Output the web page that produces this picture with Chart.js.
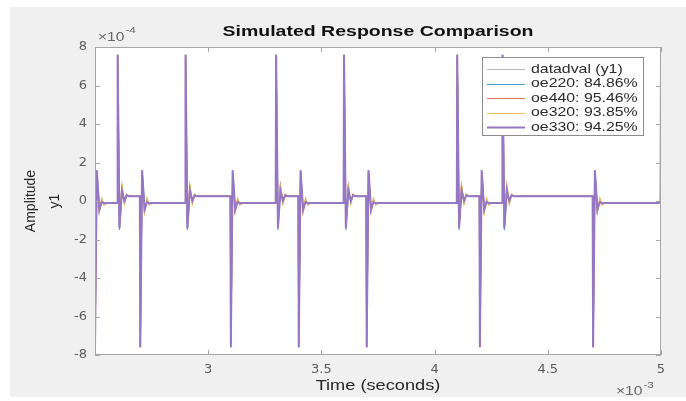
<!DOCTYPE html>
<html>
<head>
<meta charset="utf-8">
<script src="https://cdn.jsdelivr.net/npm/chart.js@4"></script>
<style>
  html, body { margin: 0; padding: 0; background: #fff; }
  #wrap { width: 686px; height: 401px; }
</style>
</head>
<body>
<div id="wrap"><canvas id="chart" width="686" height="401"></canvas></div>
<script>
// Step times of the input (x 1e-3 s) and direction of each step
const stepTimes = [2.5, 2.6, 2.7, 2.9, 3.1, 3.3, 3.4, 3.6, 3.7, 4.1, 4.2, 4.3, 4.7, 5.0];
const stepDirs  = ['down', 'up', 'down', 'up', 'down', 'up', 'down', 'up', 'down', 'up', 'down', 'up', 'down', 'up'];
// time offsets (x 1e-3 s) of the response samples after a step
const responseOffsets = [0, 0.008, 0.019, 0.03, 0.04, 0.05];
const preStep = 0.002;

// Samples after each step (x 1e-4)
const dataUp    = [7.6, -1.3, 0.5, 0.05, 0.3, 0.25];
const dataDown  = [-7.6, 1.5, -0.4, -0.05, -0.15, -0.1];
const oe220Up   = [7.5, -1.5, 0.4, 0.1, 0.3, 0.25];
const oe220Down = [-7.5, 1.6, -0.3, -0.05, -0.15, -0.1];
const oe440Up   = [7.6, -1.2, 0.8, -0.1, 0.35, 0.25];
const oe440Down = [-7.6, 1.4, -0.55, 0.1, -0.2, -0.1];
const oe320Up   = [7.6, -1.1, 0.85, -0.15, 0.35, 0.25];
const oe320Down = [-7.6, 1.3, -0.6, 0.15, -0.2, -0.1];
const oe330Up   = [7.6, -1.4, 0.55, 0.0, 0.3, 0.25];
const oe330Down = [-7.6, 1.6, -0.45, -0.05, -0.12, -0.1];
const firstValues = [-7.6, -5.0, -7.6, -7.6, -7.6];

const seriesNames = ['datadval (y1)', 'oe220: 84.86%', 'oe440: 95.46%', 'oe320: 93.85%', 'oe330: 94.25%'];
const xTicks = [3, 3.5, 4, 4.5, 5];
const yTicks = [-8, -6, -4, -2, 0, 2, 4, 6, 8];

// build the line points from the step list
function buildPoints(up, down, first) {
    let pts = [];
    stepTimes.forEach((t, i) => {
        let resp = stepDirs[i] === 'up' ? up : down;
        if (pts.length) pts.push({ x: t - preStep, y: pts[pts.length - 1].y });
        resp.forEach((v, k) => {
            pts.push({ x: t + responseOffsets[k], y: (i === 0 && k === 0) ? first : v });
        });
    });
    return pts;
}

const colors = ['#b9b9b9', '#4f9fd3', '#e2795c', '#eebf5c', '#9677c4'];
const widths = [1.2, 1.2, 1.2, 1.2, 2];
const responses = [
    [dataUp, dataDown], [oe220Up, oe220Down], [oe440Up, oe440Down],
    [oe320Up, oe320Down], [oe330Up, oe330Down]
];

const datasets = seriesNames.map((name, i) => ({
    label: name,
    data: buildPoints(responses[i][0], responses[i][1], firstValues[i]),
    borderColor: colors[i],
    backgroundColor: colors[i],
    borderWidth: widths[i],
    pointRadius: 0,
    tension: 0,
    order: 5 - i
}));

// text with horizontal stretch, the screenshot is wide
function drawText(ctx, text, x, y, font, color, align, stretch) {
    ctx.save();
    ctx.font = font;
    ctx.fillStyle = color;
    ctx.textBaseline = 'middle';
    let w = ctx.measureText(text).width * stretch;
    let left = align === 'center' ? x - w / 2 : (align === 'right' ? x - w : x);
    ctx.translate(left, y);
    ctx.scale(stretch, 1);
    ctx.textAlign = 'left';
    ctx.fillText(text, 0, 0);
    ctx.restore();
    return w;
}

const figurePlugin = {
    id: 'figure',
    beforeDraw(chart) {
        let { ctx, chartArea: a } = chart;
        ctx.save();
        ctx.fillStyle = '#ffffff';
        ctx.fillRect(0, 0, chart.width, chart.height);
        ctx.fillStyle = '#f0f0f0';
        ctx.fillRect(10, 7, chart.width - 10, 390);
        ctx.fillStyle = '#ffffff';
        ctx.fillRect(a.left, a.top, a.right - a.left, a.bottom - a.top);
        ctx.restore();
    },
    afterDatasetsDraw(chart) {
        let { ctx, chartArea: a, scales } = chart;
        ctx.save();
        ctx.strokeStyle = '#a6a6a6';
        ctx.lineWidth = 1;
        ctx.strokeRect(a.left + 0.5, a.top + 0.5, a.right - a.left - 1, a.bottom - a.top - 1);
        ctx.beginPath();
        xTicks.forEach(v => {
            let px = Math.round(scales.x.getPixelForValue(v)) + 0.5;
            ctx.moveTo(px, a.bottom); ctx.lineTo(px, a.bottom - 5);
            ctx.moveTo(px, a.top); ctx.lineTo(px, a.top + 5);
        });
        yTicks.forEach(v => {
            let py = Math.round(scales.y.getPixelForValue(v)) + 0.5;
            ctx.moveTo(a.left, py); ctx.lineTo(a.left + 5, py);
            ctx.moveTo(a.right, py); ctx.lineTo(a.right - 5, py);
        });
        ctx.stroke();
        ctx.restore();
    },
    afterDraw(chart) {
        let { ctx } = chart;
        // Legend
        ctx.save();
        ctx.fillStyle = '#ffffff';
        ctx.fillRect(482, 57, 161, 78);
        ctx.strokeStyle = '#8c8c8c';
        ctx.lineWidth = 1;
        ctx.strokeRect(482.5, 57.5, 161, 78);
        seriesNames.forEach((name, i) => {
            let y = 69 + i * 14.5;
            ctx.strokeStyle = colors[i];
            ctx.lineWidth = widths[i];
            ctx.beginPath();
            ctx.moveTo(487, Math.round(y) + 0.5);
            ctx.lineTo(525, Math.round(y) + 0.5);
            ctx.stroke();
            drawText(ctx, name, 531, y, '13px "Liberation Sans", Arial, sans-serif', '#2b2b2b', 'left', 1.22);
        });
        ctx.restore();

        // Title and labels
        drawText(ctx, 'Simulated Response Comparison', 378, 32, 'bold 15px "Liberation Sans", Arial, sans-serif', '#111111', 'center', 1.3);
        drawText(ctx, 'Time (seconds)', 378, 386, '14px "Liberation Sans", Arial, sans-serif', '#262626', 'center', 1.3);
        let w = drawText(ctx, '\u00d710', 98, 38, '12px "Liberation Sans", Arial, sans-serif', '#666666', 'left', 1.3);
        drawText(ctx, '-4', 98 + w + 1, 31, '9px "Liberation Sans", Arial, sans-serif', '#666666', 'left', 1.3);
        w = drawText(ctx, '\u00d710', 616, 392, '12px "Liberation Sans", Arial, sans-serif', '#666666', 'left', 1.3);
        drawText(ctx, '-3', 616 + w + 1, 386, '9px "Liberation Sans", Arial, sans-serif', '#666666', 'left', 1.3);

        ctx.save();
        ctx.translate(31, 201);
        ctx.rotate(-Math.PI / 2);
        ctx.font = '14px "Liberation Sans", Arial, sans-serif';
        ctx.fillStyle = '#262626';
        ctx.textAlign = 'center';
        ctx.textBaseline = 'middle';
        ctx.fillText('Amplitude', 0, 0);
        ctx.fillText('y1', 0, 24);
        ctx.restore();
    }
};

const config = {
    type: 'line',
    data: { datasets },
    options: {
        responsive: false,
        animation: false,
        layout: { padding: { left: 0, top: 47, right: 25, bottom: 0 } },
        plugins: {
            legend: { display: false },
            title: { display: false },
            tooltip: { enabled: false }
        },
        scales: {
            x: {
                type: 'linear',
                min: 2.5,
                max: 5,
                grid: { display: false, drawTicks: false },
                border: { display: false },
                ticks: {
                    padding: 7,
                    color: '#5c5c5c',
                    font: { family: 'DejaVu Sans', size: 13 },
                    callback: v => String(v)
                },
                afterBuildTicks: s => { s.ticks = xTicks.map(v => ({ value: v })); },
                afterFit: s => { s.height = 46; }
            },
            y: {
                type: 'linear',
                min: -8,
                max: 8,
                grid: { display: false, drawTicks: false },
                border: { display: false },
                ticks: {
                    padding: 8,
                    color: '#5c5c5c',
                    font: { family: 'DejaVu Sans', size: 13 },
                    callback: v => String(v)
                },
                afterBuildTicks: s => { s.ticks = yTicks.map(v => ({ value: v })); },
                afterFit: s => { s.width = 95; }
            }
        }
    },
    plugins: [figurePlugin]
};

const myChart = new Chart(document.getElementById('chart'), config);
</script>
</body>
</html>
